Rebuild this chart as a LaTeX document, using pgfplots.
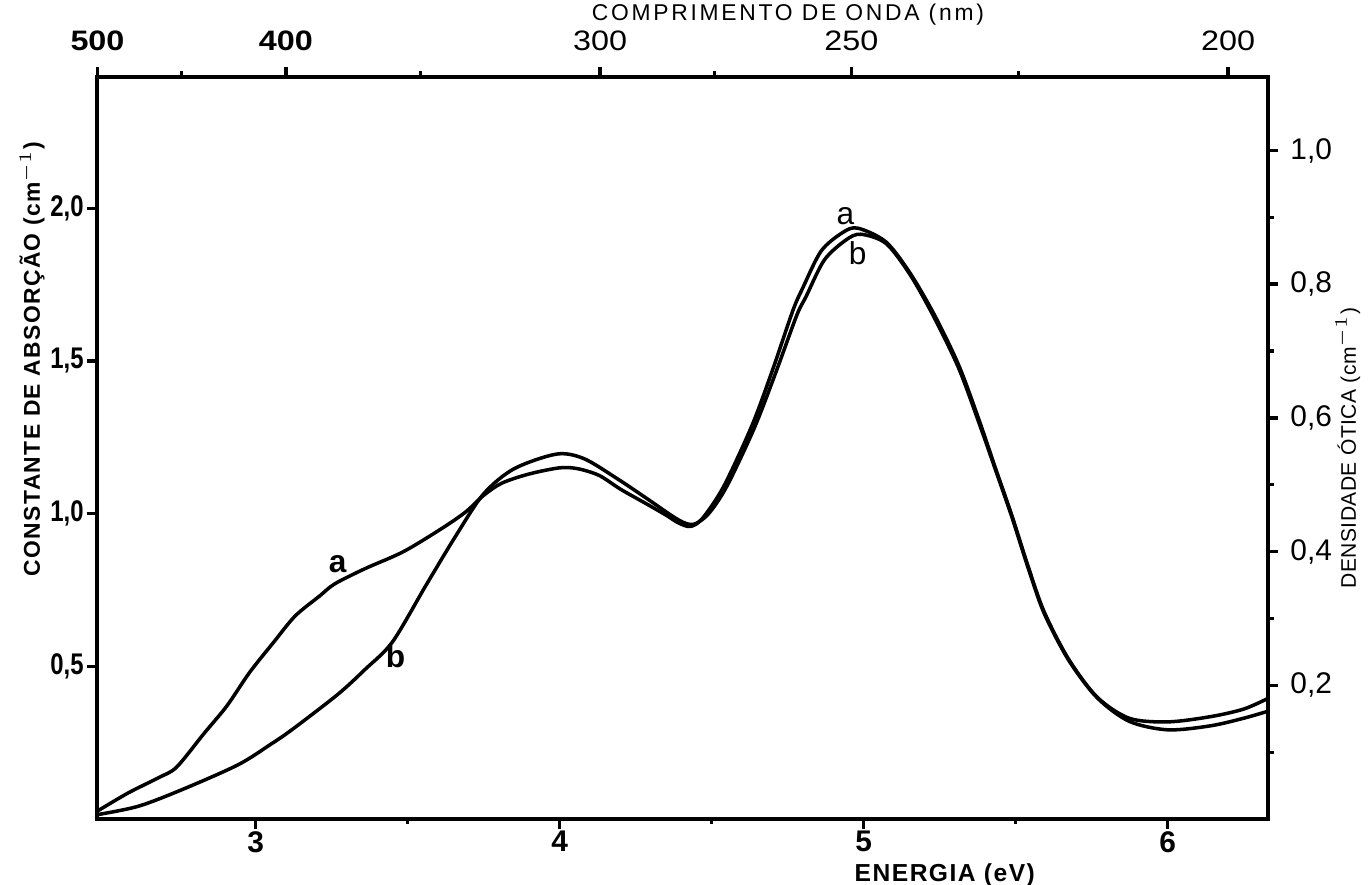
\documentclass[border=0pt]{standalone}
\usepackage{fontspec}
\setmainfont{Liberation Sans}
\newfontfamily\titlefont[LetterSpace=2]{Liberation Sans}
\newfontfamily\spacedfont[LetterSpace=6]{Liberation Sans}
\newfontfamily\widetitlefont[LetterSpace=12]{Liberation Sans}
\newfontfamily\narrowfont[FakeStretch=0.8]{Liberation Sans}
\newfontfamily\broadfont[FakeStretch=1.15]{Liberation Sans}
\usepackage{pgfplots}
\pgfplotsset{compat=1.18}

% absorption constant (cm^-1) against photon energy (eV), samples a and b
\pgfplotstableread{
E     k
2.478 0.025
2.58  0.085
2.68  0.135
2.74  0.17
2.83  0.28
2.905 0.37
2.98  0.48
3.06  0.58
3.13  0.665
3.21  0.73
3.26  0.77
3.36  0.82
3.485 0.875
3.61  0.95
3.69  1.005
3.75  1.06
3.81  1.10
3.90  1.13
4.00  1.15
4.06  1.147
4.13  1.125
4.20  1.08
4.28  1.035
4.35  0.995
4.39  0.97
4.43  0.958
4.47  0.985
4.54  1.09
4.633 1.29
4.70  1.47
4.767 1.665
4.80  1.74
4.86  1.86
4.93  1.92
4.98  1.935
5.073 1.89
5.153 1.787
5.233 1.65
5.313 1.485
5.38  1.305
5.433 1.15
5.487 0.995
5.54  0.83
5.593 0.68
5.673 0.525
5.767 0.40
5.873 0.33
6.00  0.318
6.14  0.335
6.25  0.36
6.33  0.395
}\curvea

\pgfplotstableread{
E     k
2.478 0.014
2.615 0.042
2.767 0.10
2.943 0.178
3.05  0.245
3.12  0.293
3.27  0.408
3.36  0.49
3.45  0.58
3.56  0.765
3.66  0.93
3.75  1.065
3.85  1.147
3.99  1.195
4.08  1.18
4.19  1.114
4.28  1.054
4.39  0.98
4.44  0.965
4.49  1.0
4.55  1.09
4.64  1.28
4.71  1.46
4.78  1.65
4.81  1.71
4.87  1.83
4.94  1.895
4.99  1.915
5.073 1.885
5.153 1.782
5.233 1.64
5.313 1.475
5.38  1.295
5.433 1.145
5.487 0.99
5.54  0.825
5.593 0.675
5.673 0.522
5.767 0.398
5.873 0.32
6.00  0.292
6.14  0.305
6.25  0.33
6.33  0.353
}\curveb

\pgfplotsset{
  common/.style={
    at={(0,0)}, anchor=south west, scale only axis,
    width=117.1mm, height=74.2mm,
    xmin=2.478, xmax=6.33,
    axis line style={line width=1.1pt},
    tick align=outside,
    major tick length=1.0mm, minor tick length=0.55mm,
    every tick/.style={line width=1pt, black},
    every minor tick/.style={line width=0.9pt, black},
  },
}

\begin{document}
\begin{tikzpicture}[x=1mm,y=1mm]
\useasboundingbox (-9.7,-6.6) rectangle (127.3,81.9);

% energy scale below, absorption constant on the left
\begin{axis}[common,
  ymin=0, ymax=2.43,
  xtick pos=bottom, ytick pos=left,
  xtick={3,4,5,6}, xticklabels={3,4,5,6},
  minor xtick={3.5,4.5,5.5},
  ytick={0.5,1,1.5,2}, yticklabels={{0,5},{1,0},{1,5},{2,0}},
  xticklabel style={font=\bfseries\fontsize{8.5}{10}\selectfont, yshift=1.0mm},
  yticklabel style={font=\narrowfont\bfseries\fontsize{8.5}{10}\selectfont, xshift=0.9mm},
  xlabel={\spacedfont\bfseries\fontsize{7}{8}\selectfont ENERGIA (eV)},
  xlabel style={at={(axis description cs:0.724,-0.0836)}, anchor=base},
  ylabel={\spacedfont\bfseries\fontsize{6.5}{8}\selectfont CONSTANTE DE ABSORÇÃO (cm$^{-1}$)},
  ylabel style={at={(axis description cs:-0.0555,0.62)}, anchor=center},
]
\addplot[line width=1pt, smooth] table[x=E, y=k] {\curvea};
\addplot[line width=1pt, smooth] table[x=E, y=k] {\curveb};
\node[font=\bfseries\fontsize{9}{10}\selectfont] at (axis cs:3.27,0.835) {a};
\node[font=\bfseries\fontsize{9}{10}\selectfont] at (axis cs:3.46,0.534) {b};
\node[font=\fontsize{9}{10}\selectfont] at (axis cs:4.94,1.975) {a};
\node[font=\fontsize{9}{10}\selectfont] at (axis cs:4.98,1.852) {b};
\end{axis}

% wavelength scale above, optical density on the right
\begin{axis}[common,
  ymin=0, ymax=1.11,
  xtick pos=top, xticklabel pos=upper,
  ytick pos=right, yticklabel pos=right,
  xtick={2.4796,3.0995,4.1327,4.9592,6.199},
  xticklabels={\textbf{500},\textbf{400},300,250,200},
  minor xtick={2.7551,3.5423,4.5084,5.5102},
  ytick={0.2,0.4,0.6,0.8,1.0},
  yticklabels={{0,2},{0,4},{0,6},{0,8},{1,0}},
  minor ytick={0.1,0.3,0.5,0.7,0.9},
  xticklabel style={font=\broadfont\fontsize{8}{10}\selectfont, yshift=0.4mm},
  yticklabel style={font=\fontsize{8.5}{10}\selectfont},
  xlabel={\widetitlefont\fontsize{6.5}{8}\selectfont COMPRIMENTO DE ONDA (nm)},
  xlabel style={at={(axis description cs:0.59,1.1)}, anchor=north, inner sep=0pt},
  ylabel={\titlefont\fontsize{6}{8}\selectfont DENSIDADE ÓTICA (cm$^{-1}$)},
  ylabel style={at={(axis description cs:1.068,0.50)}, anchor=center},
]
\end{axis}
\end{tikzpicture}
\end{document}
